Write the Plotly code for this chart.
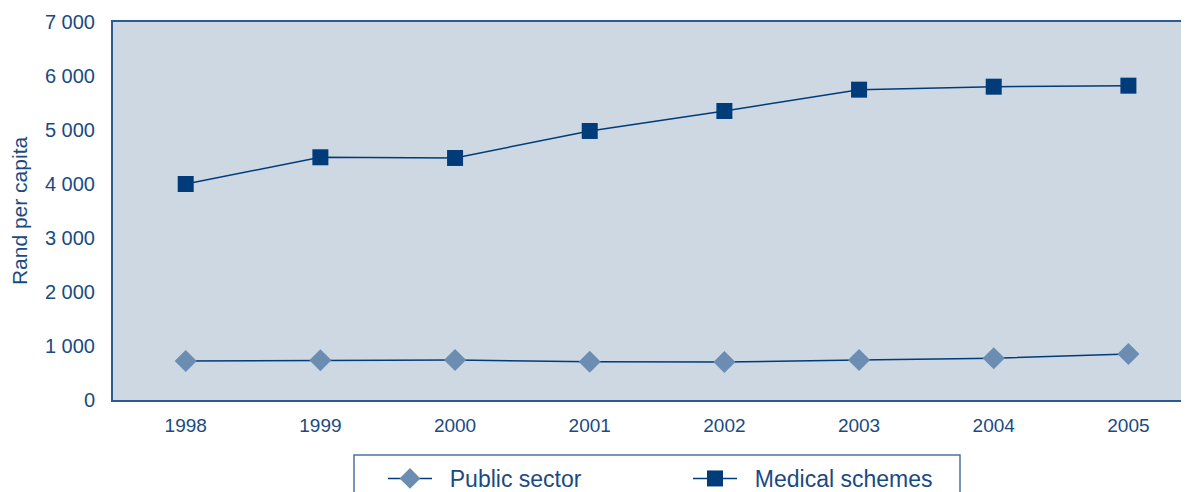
import plotly.graph_objects as go

years = [1998, 1999, 2000, 2001, 2002, 2003, 2004, 2005]
public_sector = [722, 735, 741, 709, 704, 741, 772, 852]
medical_schemes = [4000, 4495, 4482, 4982, 5352, 5747, 5802, 5821]
ytick_vals = [0, 1000, 2000, 3000, 4000, 5000, 6000, 7000]
ytick_text = ["0", "1 000", "2 000", "3 000", "4 000", "5 000", "6 000", "7 000"]

NAVY = "#003B7A"
LIGHT = "#6B8DB1"
TEXT = "#1A4A82"
BG = "#CDD8E3"
AXIS = "#2B5C91"

# the page body has an 8px margin: size the figure to what is visible
OFF = 8
W, H = 1189 - OFF, 492 - OFF
PL, PT, PR, PB = 113, 22, 1189, 400  # target plot box in window pixels
pw, ph = PR - PL, PB - PT
NB = "\u00a0\u00a0"

fig = go.Figure()
fig.add_trace(go.Scatter(
    x=years, y=public_sector, name=NB + "Public sector", yaxis="y2",
    mode="lines+markers",
    line=dict(color=NAVY, width=1.5),
    marker=dict(symbol="diamond", size=17, color=LIGHT, line=dict(width=0)),
))
fig.add_trace(go.Scatter(
    x=years, y=medical_schemes, name=NB + "Medical schemes", yaxis="y2",
    mode="lines+markers",
    line=dict(color=NAVY, width=1.5),
    marker=dict(symbol="square", size=16, color=NAVY, line=dict(width=0)),
))

fig.update_layout(
    width=W, height=H,
    margin=dict(l=PL - OFF, r=0, t=PT - OFF, b=(492 - PB), autoexpand=False),
    paper_bgcolor="white",
    plot_bgcolor=BG,
    showlegend=True,
    legend=dict(
        orientation="h", x=(383 - PL) / pw, y=(PB - 457) / ph, xanchor="left", yanchor="top",
        font=dict(family="Liberation Sans, Arial", size=23, color=TEXT),
        bgcolor="rgba(0,0,0,0)", borderwidth=0,
        entrywidth=246, entrywidthmode="pixels", itemwidth=44,
    ),
    xaxis=dict(
        range=[1997.46, 2005.45], tickvals=years, ticktext=[str(y) for y in years],
        showgrid=False, zeroline=False, automargin=False,
        showline=True, linecolor=AXIS, linewidth=2, mirror=True,
        ticks="", ticklabelstandoff=7,
        tickfont=dict(family="Liberation Sans, Arial", size=19, color=TEXT),
    ),
    yaxis=dict(
        range=[0, 7000], dtick=875, tick0=0, automargin=False,
        showgrid=True, gridcolor="white", gridwidth=1.5,
        showticklabels=False, zeroline=False, showline=False, ticks="",
    ),
    yaxis2=dict(
        overlaying="y", anchor="x", side="left", automargin=False,
        range=[0, 7000], tickvals=ytick_vals, ticktext=ytick_text,
        showgrid=False, zeroline=False,
        showline=True, linecolor=AXIS, linewidth=2,
        ticks="", ticklabelstandoff=12,
        tickfont=dict(family="Liberation Sans, Arial", size=20, color=TEXT),
        title=dict(text="Rand per capita", standoff=16,
                   font=dict(family="Liberation Sans, Arial", size=21, color=TEXT)),
    ),
    shapes=[dict(
        type="rect", xref="paper", yref="paper",
        x0=(354 - PL) / pw, x1=(960 - PL) / pw,
        y0=(PB - 530) / ph, y1=(PB - 455) / ph,
        line=dict(color="#4C72A0", width=1.5), fillcolor="rgba(0,0,0,0)",
        layer="above",
    )],
)

fig.write_html("out.html")
